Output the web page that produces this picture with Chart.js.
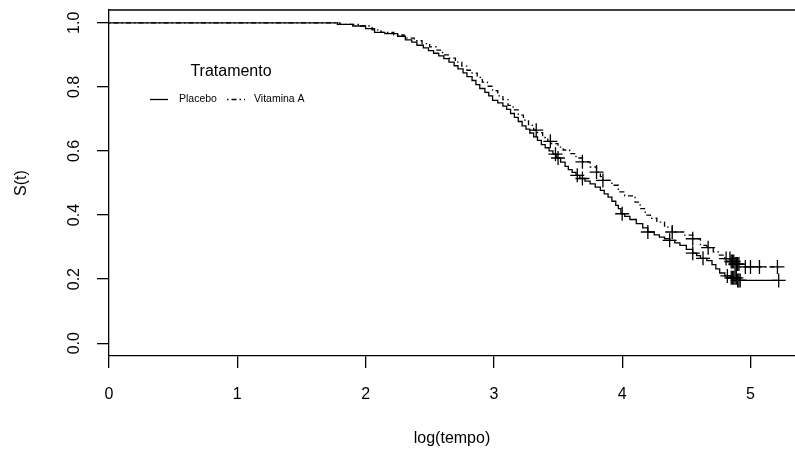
<!DOCTYPE html>
<html>
<head>
<meta charset="utf-8">
<script src="https://cdn.jsdelivr.net/npm/chart.js@4.4.0/dist/chart.umd.min.js"></script>
<style>
  html, body { margin: 0; padding: 0; background: #fff; overflow: hidden; }
  canvas { display: block; }
</style>
</head>
<body>
<canvas id="km-chart" width="795" height="459"></canvas>
<script>
// Kaplan-Meier curves (log(tempo), S(t))
const placeboTime = [0, 1.78, 1.90, 2.00, 2.07, 2.15, 2.25, 2.31, 2.36, 2.40, 2.45, 2.49, 2.53, 2.57, 2.61, 2.65, 2.69, 2.72, 2.76, 2.79, 2.83, 2.86, 2.89, 2.93, 2.96, 2.99, 3.03, 3.07, 3.10, 3.13, 3.16, 3.19, 3.22, 3.25, 3.28, 3.31, 3.34, 3.37, 3.40, 3.43, 3.46, 3.49, 3.52, 3.555, 3.58, 3.61, 3.64, 3.67, 3.71, 3.75, 3.79, 3.83, 3.86, 3.89, 3.92, 3.95, 3.97, 3.99, 4.02, 4.06, 4.11, 4.16, 4.20, 4.25, 4.29, 4.33, 4.37, 4.41, 4.45, 4.50, 4.55, 4.58, 4.61, 4.66, 4.70, 4.73, 4.76, 4.80, 4.85, 4.90, 5.22];
const placeboSurv = [1.0, 0.995, 0.99, 0.982, 0.97, 0.966, 0.958, 0.947, 0.94, 0.93, 0.922, 0.913, 0.905, 0.897, 0.888, 0.877, 0.866, 0.856, 0.844, 0.832, 0.82, 0.807, 0.795, 0.783, 0.772, 0.758, 0.75, 0.74, 0.73, 0.717, 0.705, 0.692, 0.678, 0.668, 0.656, 0.644, 0.633, 0.62, 0.61, 0.60, 0.59, 0.578, 0.565, 0.552, 0.542, 0.533, 0.524, 0.514, 0.506, 0.497, 0.487, 0.477, 0.466, 0.456, 0.443, 0.43, 0.42, 0.404, 0.396, 0.386, 0.373, 0.36, 0.347, 0.338, 0.331, 0.326, 0.321, 0.313, 0.305, 0.293, 0.281, 0.273, 0.265, 0.258, 0.245, 0.232, 0.219, 0.21, 0.204, 0.196, 0.196];

const vitaTime = [0, 1.80, 1.95, 2.05, 2.12, 2.22, 2.30, 2.38, 2.44, 2.50, 2.55, 2.60, 2.65, 2.70, 2.75, 2.79, 2.83, 2.87, 2.91, 2.95, 2.99, 3.03, 3.07, 3.11, 3.15, 3.19, 3.23, 3.27, 3.31, 3.34, 3.38, 3.42, 3.45, 3.50, 3.54, 3.59, 3.64, 3.69, 3.75, 3.80, 3.83, 3.85, 3.92, 3.97, 4.02, 4.10, 4.14, 4.18, 4.22, 4.27, 4.33, 4.39, 4.48, 4.55, 4.61, 4.66, 4.71, 4.75, 4.80, 4.85, 4.88, 4.92, 5.22];
const vitaSurv = [1.0, 0.995, 0.99, 0.978, 0.97, 0.962, 0.952, 0.944, 0.935, 0.925, 0.915, 0.90, 0.89, 0.877, 0.865, 0.852, 0.843, 0.83, 0.815, 0.802, 0.788, 0.772, 0.76, 0.742, 0.728, 0.712, 0.696, 0.68, 0.665, 0.657, 0.642, 0.63, 0.623, 0.612, 0.603, 0.592, 0.578, 0.566, 0.55, 0.534, 0.52, 0.508, 0.493, 0.472, 0.46, 0.44, 0.42, 0.40, 0.39, 0.378, 0.362, 0.347, 0.337, 0.326, 0.305, 0.298, 0.285, 0.275, 0.264, 0.255, 0.247, 0.238, 0.238];

// censoring times (the "+" marks)
const placeboCensor = [3.48, 3.50, 3.65, 3.69, 4.00, 4.20, 4.37, 4.55, 4.63, 4.82, 4.85, 4.86, 4.87, 4.88, 4.89, 4.90, 4.91, 4.92, 5.22];
const vitaCensor = [3.33, 3.44, 3.69, 3.80, 3.85, 4.39, 4.55, 4.67, 4.81, 4.84, 4.85, 4.86, 4.87, 4.88, 4.89, 4.90, 4.91, 4.96, 5.00, 5.07, 5.21];

const xTicks = [0, 1, 2, 3, 4, 5];
const yTicks = [0, 0.2, 0.4, 0.6, 0.8, 1.0];
const legendTitle = "Tratamento";
const legendLabels = ["Placebo", "Vitamina A"];

const FONT = "'Liberation Sans', Arial, Helvetica, sans-serif";
const DOTDASH = [1.5, 3, 5, 3];

function toPoints(times, surv) {
  return times.map((t, i) => ({ x: t, y: surv[i] }));
}

// value of the step curve at time t (used to sit the marks on the curve)
function survAt(times, surv, t) {
  let s = surv[0];
  for (let i = 0; i < times.length; i++) {
    if (times[i] <= t) s = surv[i];
  }
  return s;
}

function censorPoints(censor, times, surv) {
  return censor.map(t => ({ x: t, y: survAt(times, surv, t) }));
}

const boxAndText = {
  id: "boxAndText",
  afterDraw(chart) {
    const { ctx, chartArea, scales } = chart;
    ctx.save();
    ctx.strokeStyle = "#000";
    ctx.lineWidth = 1.3;
    // top edge of the box
    ctx.beginPath();
    ctx.moveTo(chartArea.left, chartArea.top);
    ctx.lineTo(chartArea.right, chartArea.top);
    ctx.stroke();

    // y tick labels, rotated like R does
    ctx.fillStyle = "#000";
    ctx.font = "16px " + FONT;
    ctx.textAlign = "center";
    ctx.textBaseline = "middle";
    yTicks.forEach(v => {
      const py = scales.y.getPixelForValue(v);
      ctx.save();
      ctx.translate(75, py);
      ctx.rotate(-Math.PI / 2);
      ctx.fillText(v.toFixed(1), 0, 0);
      ctx.restore();
    });

    // legend
    ctx.font = "16px " + FONT;
    ctx.fillText(legendTitle, 231, 72);
    ctx.font = "10.5px " + FONT;
    ctx.textAlign = "left";
    ctx.fillText(legendLabels[0], 179, 99.5);
    ctx.fillText(legendLabels[1], 254, 99.5);
    ctx.beginPath();
    ctx.moveTo(150, 99.5);
    ctx.lineTo(168, 99.5);
    ctx.stroke();
    ctx.setLineDash(DOTDASH);
    ctx.beginPath();
    ctx.moveTo(227, 99.5);
    ctx.lineTo(245, 99.5);
    ctx.stroke();
    ctx.restore();
  }
};

const axisGrid = {
  display: true,
  drawOnChartArea: false,
  drawTicks: true,
  tickLength: 12,
  color: "#000",
  lineWidth: 1.3
};

new Chart(document.getElementById("km-chart"), {
  type: "scatter",
  data: {
    datasets: [
      {
        label: legendLabels[0],
        data: toPoints(placeboTime, placeboSurv),
        showLine: true,
        stepped: true,
        borderColor: "#000",
        borderWidth: 1.3,
        pointRadius: 0
      },
      {
        label: legendLabels[1],
        data: toPoints(vitaTime, vitaSurv),
        showLine: true,
        stepped: true,
        borderColor: "#000",
        borderWidth: 1.3,
        borderDash: DOTDASH,
        pointRadius: 0
      },
      {
        label: "censor placebo",
        data: censorPoints(placeboCensor, placeboTime, placeboSurv),
        showLine: false,
        pointStyle: "cross",
        pointRadius: 7,
        pointBorderWidth: 1.3,
        borderColor: "#000"
      },
      {
        label: "censor vitamina",
        data: censorPoints(vitaCensor, vitaTime, vitaSurv),
        showLine: false,
        pointStyle: "cross",
        pointRadius: 7,
        pointBorderWidth: 1.3,
        borderColor: "#000"
      }
    ]
  },
  options: {
    responsive: false,
    animation: false,
    devicePixelRatio: 1,
    layout: { autoPadding: false, padding: { top: 10, right: 0, left: 0, bottom: 0 } },
    plugins: {
      legend: { display: false },
      tooltip: { enabled: false }
    },
    scales: {
      x: {
        type: "linear",
        min: 0,
        max: 5.347,
        afterFit: s => { s.height = 103; },
        afterBuildTicks: s => { s.ticks = xTicks.map(v => ({ value: v })); },
        grid: axisGrid,
        border: { display: true, color: "#000", width: 1.3 },
        ticks: {
          color: "#000",
          font: { family: FONT, size: 16 },
          padding: 17,
          maxRotation: 0,
          callback: v => String(v)
        },
        title: {
          display: true,
          text: "log(tempo)",
          color: "#000",
          font: { family: FONT, size: 16 },
          padding: { top: 0, bottom: 11 }
        }
      },
      y: {
        min: -0.04,
        max: 1.04,
        afterFit: s => { s.width = 109; },
        afterBuildTicks: s => { s.ticks = yTicks.map(v => ({ value: v })); },
        grid: axisGrid,
        border: { display: true, color: "#000", width: 1.3 },
        ticks: { display: false },
        title: {
          display: true,
          text: "S(t)",
          color: "#000",
          font: { family: FONT, size: 16 },
          padding: { top: 12, bottom: 0 }
        }
      }
    }
  },
  plugins: [boxAndText]
});
</script>
</body>
</html>
